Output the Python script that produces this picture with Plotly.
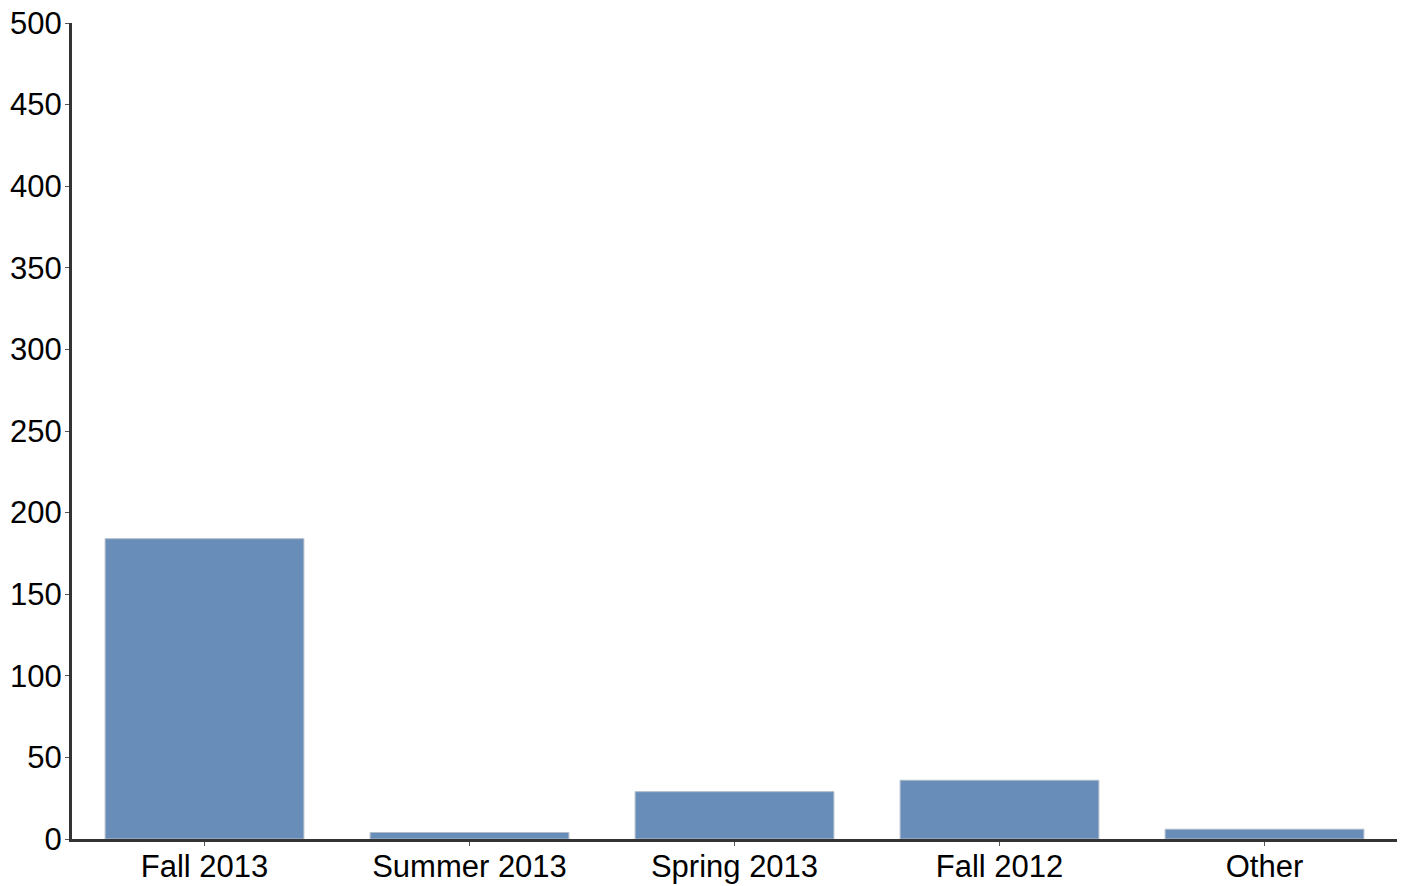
import plotly.graph_objects as go

categories = ["Fall 2013", "Summer 2013", "Spring 2013", "Fall 2012", "Other"]
values = [184, 4, 29, 36, 6]
y_ticks = [0, 50, 100, 150, 200, 250, 300, 350, 400, 450, 500]

fig = go.Figure(
    go.Bar(
        x=categories,
        y=values,
        marker=dict(color="#688db8", line=dict(color="#b0bccb", width=1)),
    )
)

axis_common = dict(
    showline=True,
    linecolor="#333333",
    linewidth=3,
    ticks="outside",
    ticklen=4,
    tickwidth=1,
    tickcolor="#555555",
    showgrid=False,
    zeroline=False,
    automargin=False,
    ticklabeloverflow="allow",
    tickfont=dict(family="Liberation Sans, Arial, sans-serif", size=31, color="#000000"),
)

fig.update_layout(
    width=1409,
    height=886,
    margin=dict(l=64, r=20, t=15, b=55),
    paper_bgcolor="white",
    plot_bgcolor="white",
    bargap=0.25,
    showlegend=False,
    xaxis=dict(range=[-0.5, 4.5], ticklabelstandoff=-6, **axis_common),
    yaxis=dict(range=[0, 500], tickvals=y_ticks, ticklabelstandoff=-3, **axis_common),
)

fig.write_html("out.html")
